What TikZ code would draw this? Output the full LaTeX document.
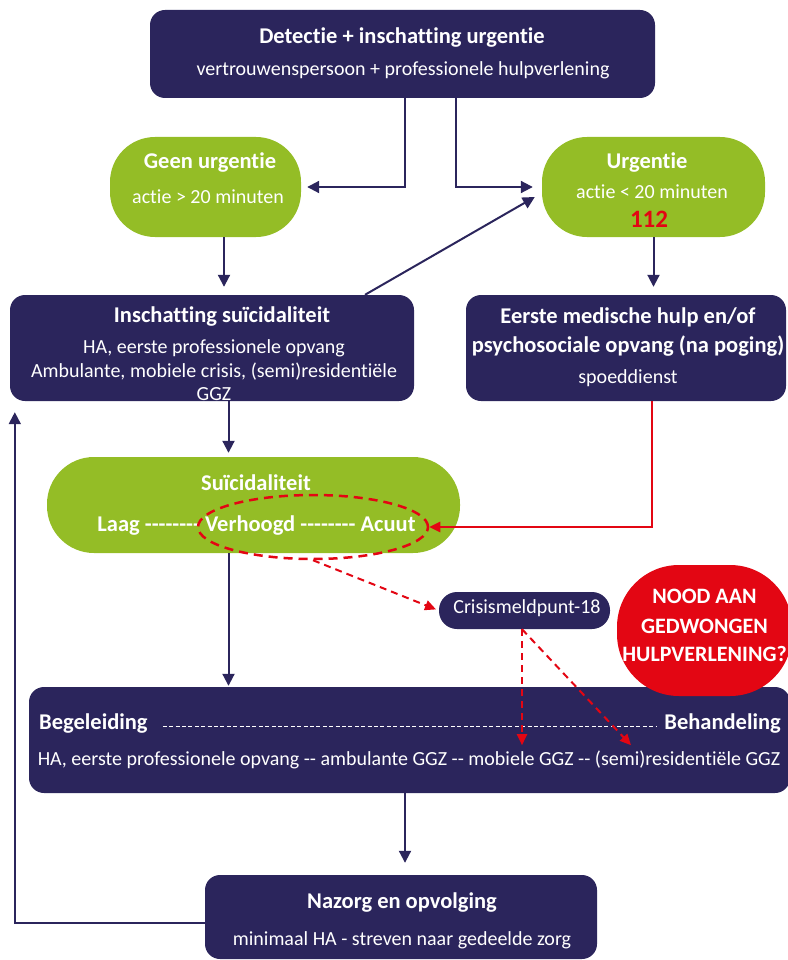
\documentclass[tikz,border=0pt]{standalone}
\usepackage{fontspec}
\setmainfont{Carlito}[Ligatures={NoCommon}]
\usetikzlibrary{arrows.meta,shapes.geometric}
\definecolor{navy}{RGB}{43,37,92}
\definecolor{lgreen}{RGB}{148,189,38}
\definecolor{bred}{RGB}{227,6,19}
\newcommand\hy{-\kern0pt\relax}
\newcommand\eighthy{\hy\hy\hy\hy\hy\hy\hy\hy}
\tikzset{
  navbox/.style={fill=navy, draw=none, rounded corners=15pt, inner sep=0pt, rectangle},
  grbox/.style={fill=lgreen, draw=none, inner sep=0pt, rectangle},
  wt/.style={text=white, anchor=base, inner sep=0pt, font=\fontsize{20}{24}\selectfont},
  wb/.style={text=white, anchor=base, inner sep=0pt, font=\fontsize{22.5}{27}\selectfont\bfseries},
  navarrow/.style={draw=navy, line width=2pt, -{Triangle[length=12pt,width=12pt]}},
  redarrow/.style={draw=bred, line width=2pt, -{Triangle[length=11pt,width=10pt]}},
  reddash/.style={redarrow, dash pattern=on 7pt off 5pt},
}
\begin{document}
\begin{tikzpicture}[x=1pt,y=-1pt]
\useasboundingbox (0,0) rectangle (787,960);
% boxes
\node[navbox, minimum width=505pt, minimum height=88pt] (top) at (402.5,54) {};
\node[grbox, rounded corners=45pt, minimum width=191pt, minimum height=100pt] (geen) at (205.5,187) {};
\node[grbox, rounded corners=45pt, minimum width=223pt, minimum height=100pt] (urg) at (653.5,187) {};
\node[navbox, minimum width=404pt, minimum height=106pt] (insch) at (212,348) {};
\node[navbox, minimum width=320pt, minimum height=106pt] (eerste) at (626,348) {};
\node[grbox, rounded corners=47pt, minimum width=413pt, minimum height=96pt] (suic) at (253.5,505) {};
\node[navbox, rounded corners=18pt, minimum width=171pt, minimum height=37pt] (crisis) at (524.5,610.5) {};
\node[navbox, minimum width=761pt, minimum height=106pt] (big) at (409.5,740) {};
\node[fill=bred, draw=none, rounded corners=62pt, inner sep=0pt, minimum width=175pt, minimum height=131pt] (blob) at (704.5,630.5) {};
\node[navbox, minimum width=392pt, minimum height=84pt] (naz) at (401,917) {};

% texts
\node[wb] (t1) at (402,44) {Detectie + inschatting urgentie};
\node[wt] (t2) at (403,75.5) {vertrouwenspersoon + professionele hulpverlening};
\node[wb] (t3) at (210,168) {Geen urgentie};
\node[wt] (t4) at (208,203.5) {actie > 20 minuten};
\node[wb] (t5) at (647,168) {Urgentie};
\node[wt] (t6) at (652,198) {actie < 20 minuten};
\node[anchor=base, inner sep=0pt, text=bred, font=\fontsize{25}{30}\selectfont\bfseries] (t7) at (649,227) {112};
\node[wb] (t8) at (222,322) {Inschatting suïcidaliteit};
\node[wt] (t9) at (214,353) {HA, eerste professionele opvang};
\node[wt] (t10) at (214,377) {\hbox to 366pt{Ambulante,\hfill mobiele\hfill crisis,\hfill (semi)residentiële}};
\node[wt] (t11) at (214,400) {GGZ};
\node[wb] (t12) at (628,323) {Eerste medische hulp en/of};
\node[wb] (t13) at (628,352) {psychosociale opvang (na poging)};
\node[wt] (t14) at (628,383) {spoeddienst};
\node[wb] (t15) at (256,490) {Suïcidaliteit};
\node[wb] (t16) at (256.5,531) {Laag \eighthy\ Verhoogd \eighthy\ Acuut};
\node[wt] (t17) at (527,613) {Crisismeldpunt-18};
\node[wb, font=\fontsize{22}{26}\selectfont\bfseries] (t18) at (704.5,603) {NOOD AAN};
\node[wb, font=\fontsize{22}{26}\selectfont\bfseries] (t19) at (704.5,633) {GEDWONGEN};
\node[wb, font=\fontsize{22}{26}\selectfont\bfseries] (t20) at (704.5,661) {HULPVERLENING?};
\node[wb, anchor=base west] (t21) at (39,729) {Begeleiding};
\node[wb, anchor=base east] (t22) at (781,729) {Behandeling};
\node[wt] (t23) at (409,765) {HA, eerste professionele opvang \hy\hy\ ambulante GGZ \hy\hy\ mobiele GGZ \hy\hy\ (semi)residentiële GGZ};
\node[wb] (t24) at (402,908) {Nazorg en opvolging};
\node[wt] (t25) at (402,945) {minimaal HA - streven naar gedeelde zorg};
\draw[white, line width=1pt, dash pattern=on 4pt off 2.4pt] ([xshift=15pt,yshift=3pt]t21.base east) coordinate (dl) -- ([xshift=-8pt]dl -| t22.base west);

% navy connectors
\draw[navarrow] ([xshift=2.5pt]top.south) |- ([xshift=6pt]geen.east);
\draw[navarrow] ([xshift=53.5pt]top.south) |- ([xshift=-9pt]urg.west);
\draw[navarrow, shorten >=8pt] ([xshift=18.5pt]geen.south) -- ([xshift=18.5pt]geen.south |- insch.north);
\draw[navarrow, shorten >=8pt] (urg.south) -- (urg.south |- eerste.north);
\draw[navarrow] ([xshift=153pt]insch.north) -- ([xshift=-7pt,yshift=-10pt]urg.west);
\draw[navarrow, shorten >=4pt] ([xshift=16.5pt]insch.south) -- ([xshift=16.5pt]insch.south |- suic.north);
\draw[navarrow, shorten >=1pt] ([xshift=-25pt]suic.south) -- ([xshift=-25pt]suic.south |- big.north);
\draw[navarrow, shorten >=12pt] ([xshift=-4.5pt]big.south) -- ([xshift=-4.5pt]big.south |- naz.north);
\draw[navarrow] ([yshift=-6pt]naz.west) -| ([shift={(5pt,-11pt)}]insch.south west);

% red connectors
\node[draw=bred, ellipse, line width=2.5pt, dash pattern=on 9pt off 6pt, minimum width=230pt, minimum height=64pt, inner sep=0pt] (ell) at (313,527) {};
\draw[redarrow, line width=2.5pt] ([xshift=26pt]eerste.south) |- (ell.east);
\draw[reddash, shorten >=3pt] (ell.south) -- (crisis.west);
\draw[reddash] ([xshift=-2.5pt]crisis.south) -- ++(0pt,-116pt);
\draw[reddash] ([xshift=-2.5pt]crisis.south) -- ++(109pt,-116pt);
\end{tikzpicture}
\end{document}
